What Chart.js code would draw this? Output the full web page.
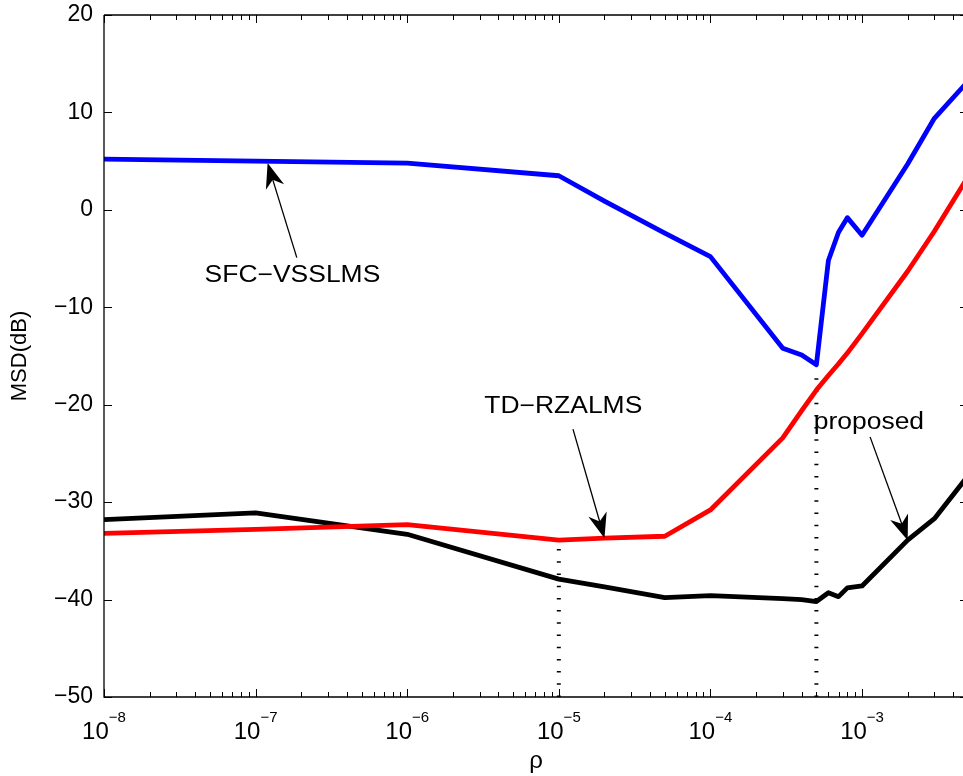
<!DOCTYPE html>
<html>
<head>
<meta charset="utf-8">
<script src="https://cdn.jsdelivr.net/npm/chart.js@4.4.1/dist/chart.umd.min.js"></script>
<style>
  html, body { margin: 0; padding: 0; background: #fff; overflow: hidden; }
</style>
</head>
<body>
<canvas id="msdChart" width="975" height="776"></canvas>
<script>
// step-size parameter rho and steady-state MSD (dB) of the three filters
var rho = [1e-8, 1e-7, 1e-6, 1e-5, 2e-5, 5e-5, 1e-4, 3e-4, 4e-4, 5e-4, 6e-4, 7e-4, 8e-4, 1e-3, 2e-3, 3e-3, 5e-3];
var msdSfc = [5.2, 5.0, 4.8, 3.5, 0.9, -2.4, -4.8, -14.2, -14.9, -15.9, -5.2, -2.3, -0.8, -2.6, 4.7, 9.4, 13.2];
var msdTd = [-33.2, -32.8, -32.3, -33.9, -33.7, -33.5, -30.8, -23.4, -20.6, -18.5, -17.0, -15.8, -14.7, -12.7, -6.3, -2.2, 3.4];
var msdProposed = [-31.8, -31.1, -33.3, -37.9, -38.7, -39.8, -39.6, -39.9, -40.0, -40.2, -39.3, -39.7, -38.8, -38.6, -33.9, -31.7, -27.3];

// dotted guides dropped from the curves to the bottom axis
var guideRho = [1e-5, 5e-4];
var guideTop = [-34.5, -16.5];

var xTicks = [1e-8, 1e-7, 1e-6, 1e-5, 1e-4, 1e-3];
var xExp = [-8, -7, -6, -5, -4, -3];
var yTicks = [-50, -40, -30, -20, -10, 0, 10, 20];

// curve labels with arrows: text at, arrow tail, arrow tip (data space)
var notes = [
  { text: 'SFC\u2212VSSLMS', at: [1.75e-7, -7.4], tail: [1.87e-7, -4.9], tip: [1.2e-7, 4.8] },
  { text: 'TD\u2212RZALMS', at: [1.07e-5, -20.9], tail: [1.24e-5, -22.5], tip: [2e-5, -33.7] },
  { text: 'proposed', at: [1.11e-3, -22.5], tail: [1.13e-3, -23.3], tip: [2e-3, -33.9] }
];

var FONT = 'Liberation Sans, Arial, Helvetica, sans-serif';

function pts(ys) {
  return rho.map(function (r, i) { return { x: r, y: ys[i] }; });
}

function guide(i) {
  return [{ x: guideRho[i], y: -50 }, { x: guideRho[i], y: guideTop[i] }];
}

function minus(v) {
  return v < 0 ? '\u2212' + Math.abs(v) : String(v);
}

function noPad(s) {
  s.paddingTop = 0; s.paddingBottom = 0; s.paddingLeft = 0; s.paddingRight = 0;
}

var frame = {
  id: 'frame',
  afterDatasetsDraw: function (chart) {
    var ctx = chart.ctx;
    var a = chart.chartArea;
    var xs = chart.scales.x, ys = chart.scales.y;
    ctx.save();
    ctx.strokeStyle = '#000';
    ctx.fillStyle = '#000';
    ctx.lineWidth = 1.3;

    // box
    ctx.beginPath();
    ctx.moveTo(a.left, a.top); ctx.lineTo(a.right, a.top);
    ctx.moveTo(a.left, a.top); ctx.lineTo(a.left, a.bottom);
    ctx.lineTo(a.right, a.bottom); ctx.lineTo(a.right, a.top);
    ctx.stroke();

    // inward ticks
    ctx.lineWidth = 1;
    ctx.beginPath();
    yTicks.forEach(function (v) {
      var py = Math.round(ys.getPixelForValue(v)) + 0.5;
      ctx.moveTo(a.left, py); ctx.lineTo(a.left + 8, py);
      ctx.moveTo(a.right, py); ctx.lineTo(a.right - 8, py);
    });
    xTicks.forEach(function (d) {
      for (var k = 1; k <= 9; k++) {
        var v = d * k;
        if (v > xs.max) break;
        var px = Math.round(xs.getPixelForValue(v)) + 0.5;
        var len = k === 1 ? 8 : 5;
        ctx.moveTo(px, a.bottom); ctx.lineTo(px, a.bottom - len);
        ctx.moveTo(px, a.top); ctx.lineTo(px, a.top + len);
      }
    });
    ctx.stroke();

    // decade labels 10^n
    ctx.textBaseline = 'alphabetic';
    ctx.textAlign = 'left';
    xTicks.forEach(function (v, i) {
      var px = xs.getPixelForValue(v);
      var sup = '\u2212' + Math.abs(xExp[i]);
      ctx.font = '24px ' + FONT;
      var w1 = ctx.measureText('10').width;
      ctx.font = '15px ' + FONT;
      var w2 = ctx.measureText(sup).width;
      var x0 = px - (w1 + w2) / 2;
      ctx.font = '24px ' + FONT;
      ctx.fillText('10', x0, 739);
      ctx.font = '15px ' + FONT;
      ctx.fillText(sup, x0 + w1, 722);
    });

    // annotations
    notes.forEach(function (n) {
      var tx = xs.getPixelForValue(n.tail[0]), ty = ys.getPixelForValue(n.tail[1]);
      var hx = xs.getPixelForValue(n.tip[0]), hy = ys.getPixelForValue(n.tip[1]);
      var dx = hx - tx, dy = hy - ty, len = Math.sqrt(dx * dx + dy * dy);
      var ux = dx / len, uy = dy / len, nx = -uy, ny = ux;
      var L = 25, W = 9.5;
      ctx.lineWidth = 1.3;
      ctx.beginPath();
      ctx.moveTo(tx, ty);
      ctx.lineTo(hx - ux * L * 0.6, hy - uy * L * 0.6);
      ctx.stroke();
      ctx.beginPath();
      ctx.moveTo(hx, hy);
      ctx.lineTo(hx - ux * L + nx * W, hy - uy * L + ny * W);
      ctx.lineTo(hx - ux * L * 0.7, hy - uy * L * 0.7);
      ctx.lineTo(hx - ux * L - nx * W, hy - uy * L - ny * W);
      ctx.closePath();
      ctx.fill();

      var cx = xs.getPixelForValue(n.at[0]), cy = ys.getPixelForValue(n.at[1]);
      ctx.save();
      ctx.translate(cx, cy);
      ctx.scale(1.15, 1);
      ctx.font = '23px ' + FONT;
      ctx.textAlign = 'center';
      ctx.fillText(n.text, 0, 0);
      ctx.restore();
    });
    ctx.restore();
  }
};

var lineStyle = { borderWidth: 4.8, pointRadius: 0, tension: 0, borderJoinStyle: 'round', borderCapStyle: 'butt', fill: false };

new Chart('msdChart', {
  type: 'line',
  data: {
    datasets: [
      Object.assign({ label: 'SFC-VSSLMS', data: pts(msdSfc), borderColor: '#0000ff' }, lineStyle),
      Object.assign({ label: 'TD-RZALMS', data: pts(msdTd), borderColor: '#ff0000' }, lineStyle),
      Object.assign({ label: 'proposed', data: pts(msdProposed), borderColor: '#000000' }, lineStyle),
      { data: guide(0), borderColor: '#000', borderWidth: 4, borderDash: [1.5, 10.7], pointRadius: 0 },
      { data: guide(1), borderColor: '#000', borderWidth: 4, borderDash: [1.5, 10.7], pointRadius: 0 }
    ]
  },
  options: {
    responsive: false,
    animation: false,
    devicePixelRatio: 1,
    layout: { padding: { top: 15, right: 7, left: 0, bottom: 0 } },
    plugins: { legend: { display: false }, tooltip: { enabled: false } },
    scales: {
      x: {
        type: 'logarithmic',
        min: 1e-8,
        max: 5e-3,
        afterBuildTicks: function (s) { s.ticks = xTicks.map(function (v) { return { value: v }; }); },
        afterFit: function (s) { s.height = 79; noPad(s); },
        ticks: { display: false },
        grid: { display: false, drawTicks: false },
        border: { display: false },
        title: { display: true, text: 'ρ', color: '#000', font: { family: FONT, size: 24 }, padding: { top: 0, bottom: 0 } }
      },
      y: {
        min: -50,
        max: 20,
        afterBuildTicks: function (s) { s.ticks = yTicks.map(function (v) { return { value: v }; }); },
        afterFit: function (s) { s.width = 104; noPad(s); },
        ticks: { color: '#000', font: { family: FONT, size: 23 }, padding: 11, callback: function (v) { return minus(v); } },
        grid: { display: false, drawTicks: false },
        border: { display: false },
        title: { display: true, text: 'MSD(dB)', color: '#000', font: { family: FONT, size: 22 }, padding: { top: 7, bottom: 0 } }
      }
    }
  },
  plugins: [frame]
});
</script>
</body>
</html>
